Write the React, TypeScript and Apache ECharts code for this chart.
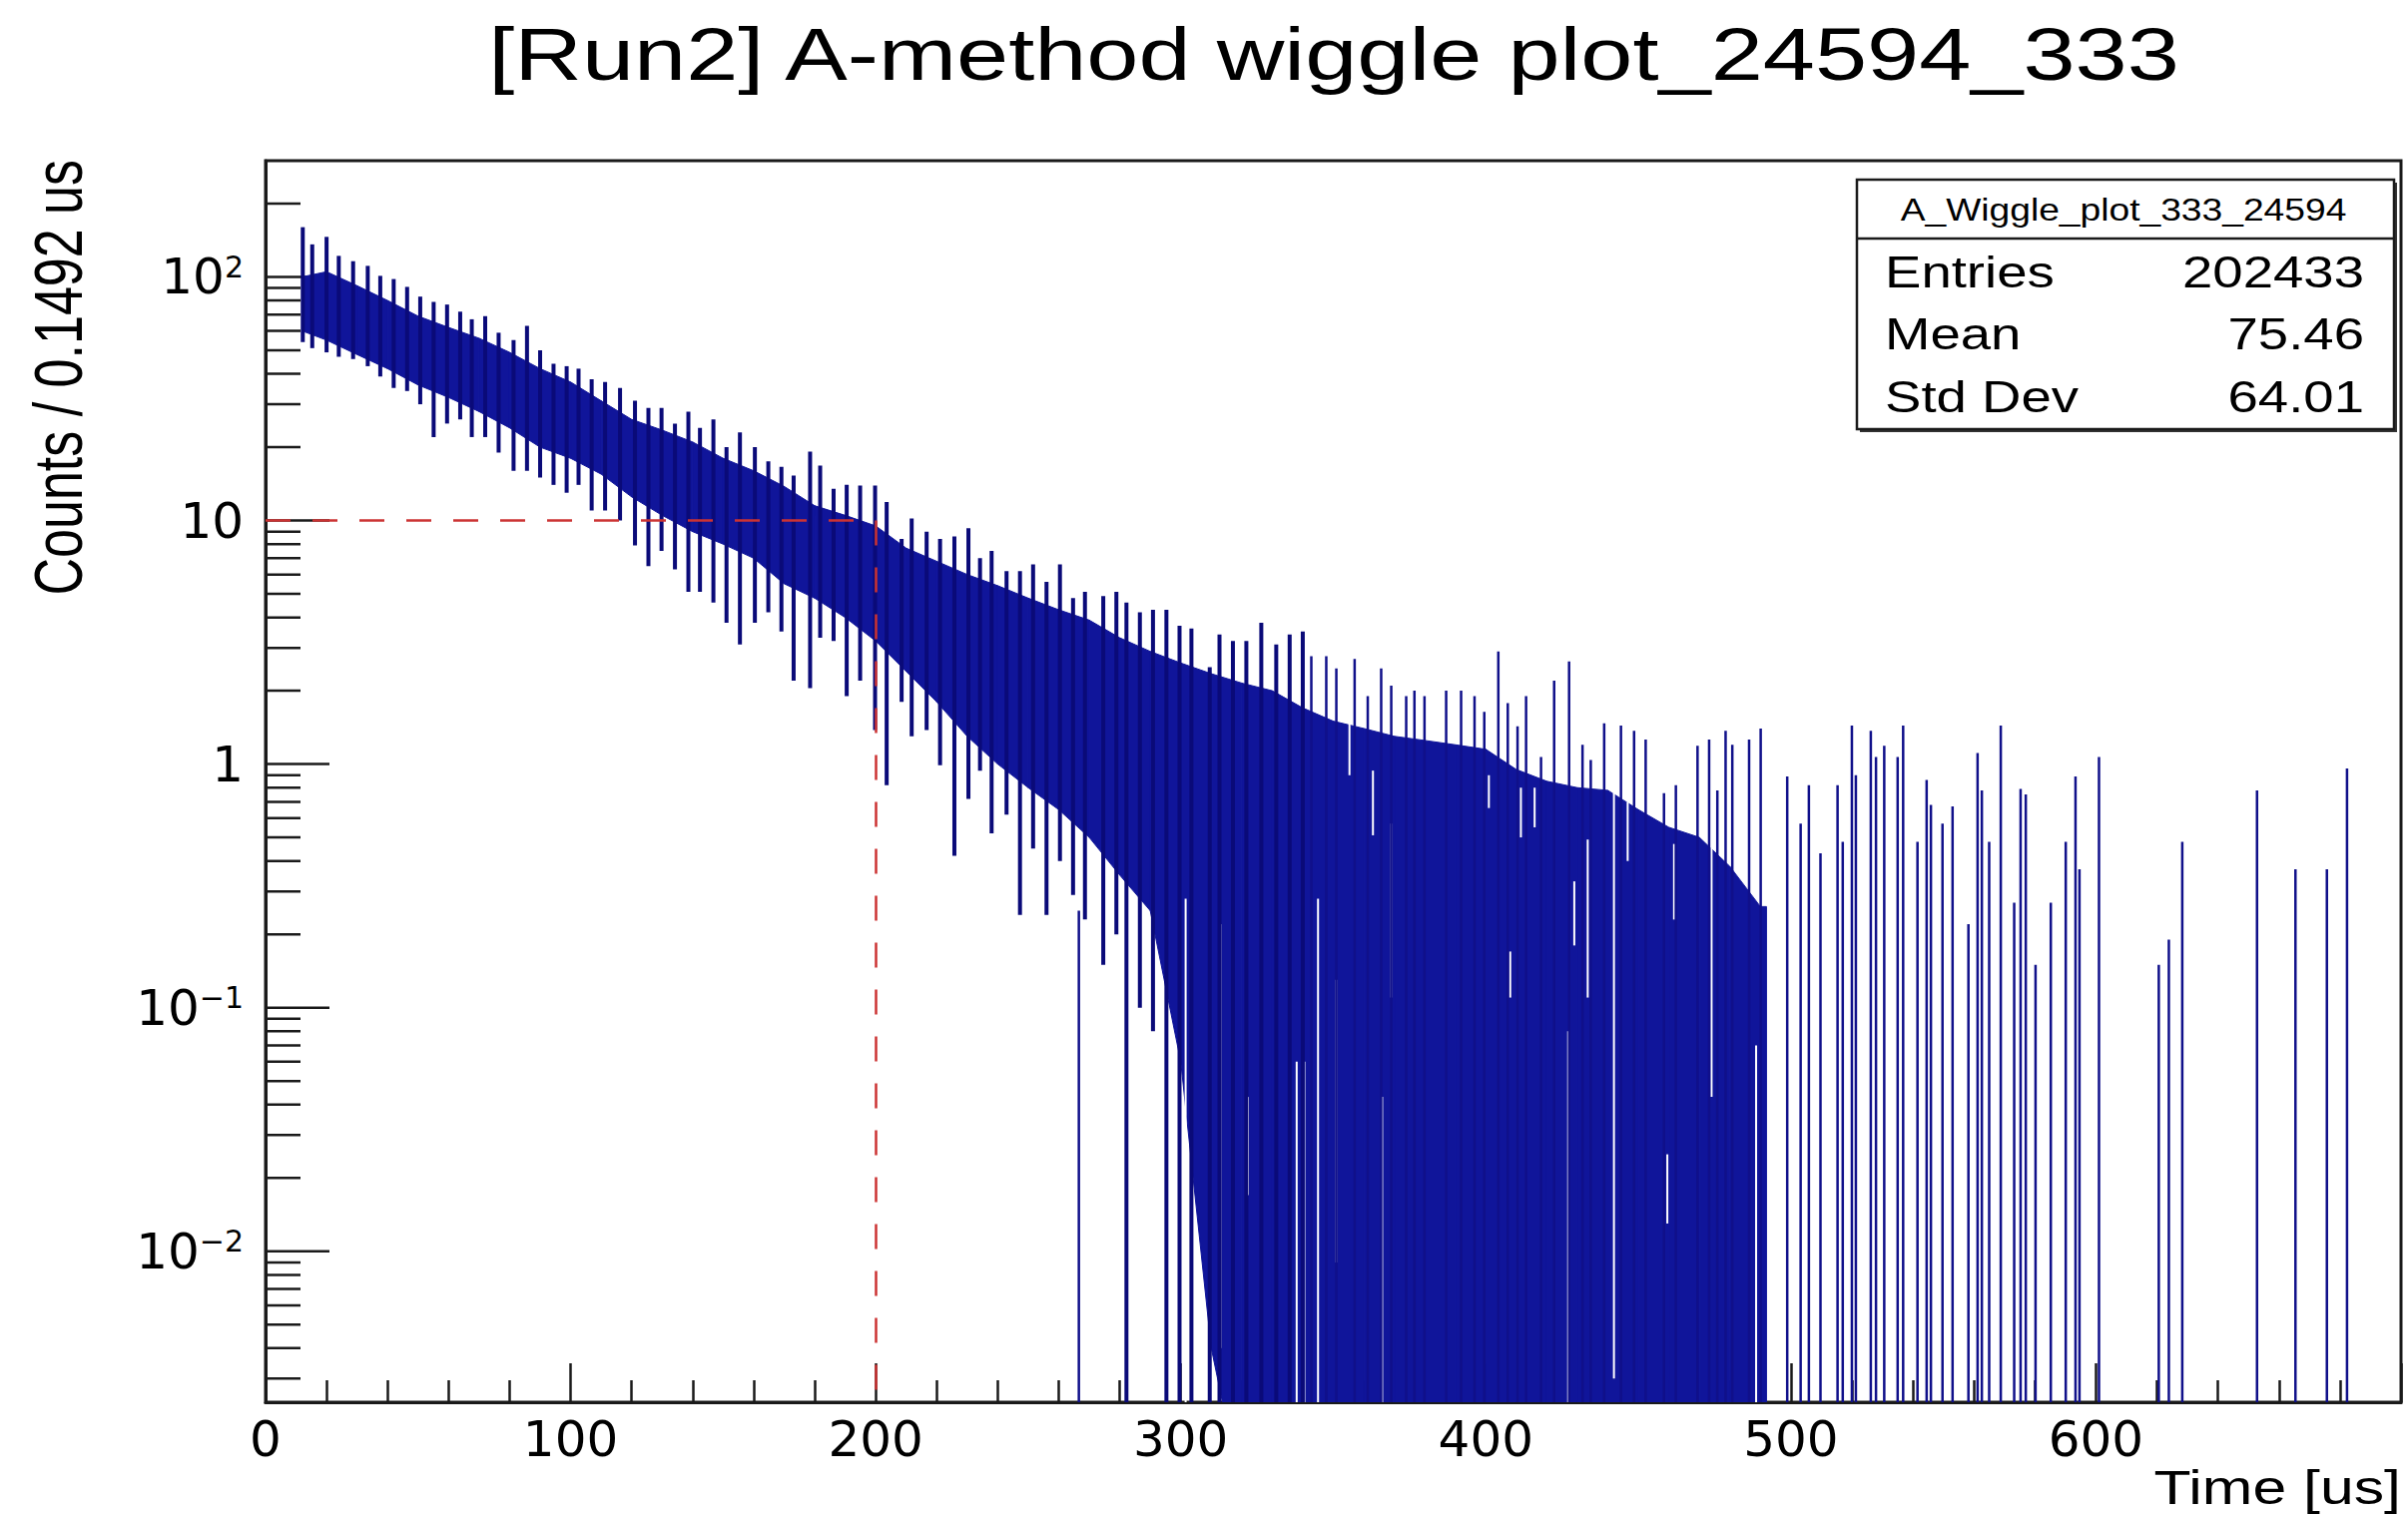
import React, { useEffect, useRef } from 'react';
import * as echarts from 'echarts';

const W = 2412;
const H = 1517;

// ---------- texts ----------
const titleText = '[Run2] A-method wiggle plot_24594_333';
const xTitle = 'Time [us]';
const yTitle = 'Counts / 0.1492 us';
const statsTitle = 'A_Wiggle_plot_333_24594';
const statsLabels = ['Entries', 'Mean', 'Std Dev'];
const statsValues = ['202433', '75.46', '64.01'];

// ---------- axes ----------
const X_MIN = 0;
const X_MAX = 700;
const X_STEP = 100;
const Y_MIN = 0.0024;
const Y_MAX = 300;
const FLOOR = 0.001; // an empty bin (0 counts) is drawn down to below the axis floor

const yMajorTicks = [0.01, 0.1, 1, 10, 100];
const yMinorTicks = [
  0.003, 0.004, 0.005, 0.006, 0.007, 0.008, 0.009,
  0.02, 0.03, 0.04, 0.05, 0.06, 0.07, 0.08, 0.09,
  0.2, 0.3, 0.4, 0.5, 0.6, 0.7, 0.8, 0.9,
  2, 3, 4, 5, 6, 7, 8, 9,
  20, 30, 40, 50, 60, 70, 80, 90,
  200,
];

// ---------- reference lines ----------
const refX = 200;
const refY = 10;

// ---------- histogram: dense core band (upper / lower edge of the solid ink) ----------
const coreT = [12, 20, 30, 40, 50, 60, 70, 80, 90, 100, 110, 120, 130, 140, 150, 160, 170, 180, 190, 200, 210, 220, 230, 240, 250, 260, 270, 280, 290, 300, 310, 320, 330, 340, 350, 360, 370, 380, 390, 400, 410, 420, 430, 440, 450, 460, 470, 480, 490, 492];
const coreHi = [100, 105, 92, 80, 69, 62, 56, 49, 42, 37, 31, 26, 23.5, 21, 18, 16, 13.8, 11.5, 10.5, 9.5, 7.7, 6.8, 6.0, 5.4, 4.8, 4.3, 3.9, 3.3, 2.9, 2.6, 2.35, 2.15, 2.0, 1.7, 1.5, 1.4, 1.3, 1.25, 1.2, 1.15, 0.95, 0.85, 0.8, 0.78, 0.65, 0.55, 0.5, 0.38, 0.26, 0.26];
const coreLo = [60, 55, 48, 42, 36, 32, 28, 24, 20, 18, 15.5, 12.5, 10.5, 9, 8, 7, 5.5, 4.8, 4, 3.2, 2.4, 1.8, 1.3, 1.0, 0.8, 0.65, 0.5, 0.35, 0.25, 0.06, 0.004, 0, 0, 0, 0, 0, 0, 0, 0, 0, 0, 0, 0, 0, 0, 0, 0, 0, 0, 0];

// ---------- wiggle strokes (one per g-2 period: max / min of the period) ----------
const wiggleT = [12.2, 15.3, 20.0, 24.0, 28.7, 33.5, 37.6, 42.0, 46.4, 50.7, 55.1, 59.5, 63.8, 67.6, 72.0, 76.4, 81.3, 85.7, 90.0, 94.4, 98.7, 102.6, 106.9, 111.3, 116.2, 121.1, 125.5, 129.8, 134.2, 138.6, 142.4, 146.8, 151.1, 155.5, 160.4, 164.8, 169.1, 173.1, 178.5, 181.8, 186.2, 190.5, 194.9, 199.8, 203.6, 208.5, 211.8, 216.7, 221.1, 225.8, 230.4, 234.2, 238.0, 242.9, 247.3, 251.6, 256.0, 260.4, 264.7, 268.6, 274.6, 278.9, 282.2, 286.6, 290.9, 295.3, 299.6, 303.5, 309.5, 312.7, 317.1, 321.5, 326.4, 331.3, 335.7, 340.0];
const wiggleHi = [160, 136, 146, 122, 116, 111, 101, 98, 91, 83, 79, 77, 72, 67, 69, 59, 55, 63, 50, 44, 43, 42, 38, 37, 35, 31, 29, 29, 25, 28, 24, 26, 20, 23, 20, 17.5, 16.6, 15.3, 19.2, 16.8, 13.5, 14, 13.9, 13.9, 11.9, 8.4, 10.2, 9.0, 8.4, 8.6, 9.3, 7.0, 7.5, 6.2, 6.2, 6.6, 5.6, 6.6, 4.8, 5.1, 4.9, 5.1, 4.6, 4.2, 4.3, 4.3, 3.7, 3.6, 2.5, 3.4, 3.2, 3.2, 3.8, 3.1, 3.4, 3.5];
const wiggleLo = [54, 51, 49, 47, 46, 43, 39, 35, 34, 30, 22, 25, 26, 22, 22, 19, 16, 16, 15, 14, 13, 14, 11, 11, 10, 7.9, 6.5, 7.5, 6.3, 5.1, 5.1, 4.6, 3.8, 3.1, 3.8, 4.2, 3.5, 2.2, 2.05, 3.3, 3.2, 1.9, 2.2, 1.38, 0.82, 1.8, 1.3, 1.38, 0.99, 0.42, 0.72, 0.94, 0.52, 0.62, 0.24, 0.45, 0.24, 0.4, 0.29, 0.23, 0.15, 0.2, 0, 0.1, 0.08, 0, 0, 0, 0, 0, 0, 0, 0, 0, 0, 0];

// ---------- late spikes (bins next to empty bins: drawn down to the floor) ----------
const spikeT = [266.6, 342.8, 347.7, 351.0, 357.0, 361.3, 365.7, 369.0, 373.9, 376.6, 379.9, 387.0, 391.9, 396.3, 399.5, 404.1, 407.2, 410.4, 413.2, 418.1, 422.4, 427.3, 431.7, 434.4, 438.8, 444.3, 448.6, 452.4, 458.4, 462.3, 469.4, 473.2, 475.9, 478.6, 480.8, 486.3, 490.1, 498.8, 503.2, 505.9, 509.7, 515.3, 517.0, 520.0, 521.3, 526.2, 527.9, 530.6, 535.0, 536.8, 541.5, 544.5, 545.9, 549.7, 553.0, 558.2, 561.2, 562.6, 565.0, 568.8, 573.2, 575.3, 577.0, 580.2, 585.2, 590.1, 593.3, 594.6, 601.0, 620.6, 623.9, 628.3, 652.8, 665.4, 675.7, 682.3];
const spikeHi = [0.25, 2.77, 2.77, 2.47, 2.7, 1.9, 2.47, 2.1, 1.9, 2.0, 1.9, 2.0, 2.0, 1.9, 1.64, 2.9, 1.78, 1.43, 1.9, 1.07, 2.2, 2.64, 1.2, 1.04, 1.47, 1.44, 1.37, 1.26, 0.76, 0.82, 1.19, 1.26, 0.78, 1.37, 1.2, 1.26, 1.4, 0.89, 0.57, 0.82, 0.43, 0.82, 0.48, 1.44, 0.9, 1.37, 1.07, 1.19, 1.07, 1.44, 0.48, 0.86, 0.68, 0.57, 0.67, 0.22, 1.11, 0.78, 0.48, 1.44, 0.27, 0.79, 0.75, 0.15, 0.27, 0.48, 0.89, 0.37, 1.07, 0.15, 0.19, 0.48, 0.78, 0.37, 0.37, 0.96];

// ---------- unfilled runs inside the dense region ----------
const gapT = [301.6, 313.0, 322.0, 331.5, 338.0, 340.5, 345.0, 351.0, 355.3, 363.0, 366.0, 369.0, 401.0, 408.0, 411.5, 416.0, 427.0, 429.0, 433.4, 442.0, 446.5, 459.5, 461.7, 474.0, 488.6];
const gapHi = [0.28, 0.22, 0.043, 0.17, 0.06, 0.06, 0.28, 0.13, 1.58, 0.94, 0.043, 0.57, 0.9, 0.17, 0.8, 0.8, 0.08, 0.33, 0.49, 0.83, 0.7, 0.025, 0.47, 0.6, 0.07];
const gapLo = [0, 0.004, 0.017, 0.017, 0, 0, 0, 0.009, 0.9, 0.51, 0, 0.11, 0.66, 0.11, 0.5, 0.55, 0, 0.18, 0.11, 0.003, 0.4, 0.013, 0.23, 0.043, 0];

// ---------- styles ----------
const BAND = '#10159a';
const STROKE = '#0a0a78';
const SPIKE = '#10108a';
const GAP = '#ffffff';
const AXIS = '#1a1a1a';
const RED = '#cc3333';
const LABEL_FONT = 'DejaVu Sans';
const TEXT_FONT = 'Liberation Sans';

const fv = (v: number) => (v > 0 ? v : FLOOR);

function vline(api: any, t: number, hi: number, lo: number, color: string, width: number) {
  const a = api.coord([t, fv(hi)]);
  const b = api.coord([t, fv(lo)]);
  return {
    type: 'line',
    shape: { x1: a[0], y1: a[1], x2: b[0], y2: b[1] },
    style: { stroke: color, lineWidth: width },
  };
}

function bandQuad(api: any, i: number, top: number[], bottom: number[], color: string) {
  if (i >= coreT.length - 1) return null;
  const pts = [
    api.coord([coreT[i], fv(top[i])]),
    api.coord([coreT[i + 1], fv(top[i + 1])]),
    api.coord([coreT[i + 1], fv(bottom[i + 1])]),
    api.coord([coreT[i], fv(bottom[i])]),
  ];
  return { type: 'polygon', shape: { points: pts }, style: { fill: color, stroke: color, lineWidth: 1 } };
}

function yLabel(v: number) {
  const e = Math.log10(v);
  const r = Math.round(e);
  if (Math.abs(e - r) > 1e-6) return '';
  if (!yMajorTicks.some((m) => Math.abs(Math.log10(m) - r) < 1e-6)) return '';
  if (r === 0) return '{b|1}';
  if (r === 1) return '{b|10}';
  const exp = r < 0 ? '\u2212' + String(-r) : String(r);
  return '{b|10}{s|' + exp + '}';
}

function buildOption() {
  const textBase = { fontFamily: TEXT_FONT, fill: '#000' };
  const statsLeft = 1860;
  const statsTop = 180;
  const statsW = 538;
  const statsH = 250;
  const rowY = [273, 335, 398];

  const graphic: any[] = [
    {
      type: 'text', x: 1336, y: 54, scaleX: 1.25, z: 100,
      style: { ...textBase, text: titleText, fontSize: 75, align: 'center', verticalAlign: 'middle' },
    },
    {
      type: 'text', x: 58, y: 160, rotation: Math.PI / 2, scaleY: 1.3, z: 100,
      style: { ...textBase, text: yTitle, fontSize: 52, align: 'right', verticalAlign: 'middle' },
    },
    {
      type: 'text', x: 2405, y: 1490, scaleX: 1.24, z: 100,
      style: { ...textBase, text: xTitle, fontSize: 49, align: 'right', verticalAlign: 'middle' },
    },
    {
      type: 'rect', z: 90,
      shape: { x: statsLeft + 3, y: statsTop + 3, width: statsW, height: statsH },
      style: { fill: '#333', stroke: 'none' },
    },
    {
      type: 'rect', z: 91,
      shape: { x: statsLeft, y: statsTop, width: statsW, height: statsH },
      style: { fill: '#fff', stroke: AXIS, lineWidth: 2.5 },
    },
    {
      type: 'line', z: 92,
      shape: { x1: statsLeft, y1: statsTop + 59, x2: statsLeft + statsW, y2: statsTop + 59 },
      style: { stroke: AXIS, lineWidth: 2.5 },
    },
    {
      type: 'text', x: statsLeft + statsW / 2 - 2, y: 210, scaleX: 1.2, z: 100,
      style: { ...textBase, text: statsTitle, fontSize: 31, align: 'center', verticalAlign: 'middle' },
    },
  ];
  statsLabels.forEach((lab, i) => {
    graphic.push({
      type: 'text', x: 1888, y: rowY[i], scaleX: 1.24, z: 100,
      style: { ...textBase, text: lab, fontSize: 44, align: 'left', verticalAlign: 'middle' },
    });
    graphic.push({
      type: 'text', x: 2368, y: rowY[i], scaleX: 1.24, z: 100,
      style: { ...textBase, text: statsValues[i], fontSize: 44, align: 'right', verticalAlign: 'middle' },
    });
  });

  const bandData = coreT.map((t, i) => [t, coreHi[i], coreLo[i]]);
  const wiggleData = wiggleT.map((t, i) => [t, wiggleHi[i], wiggleLo[i]]);
  const spikeData = spikeT.map((t, i) => [t, spikeHi[i], 0]);
  const gapData = gapT.map((t, i) => [t, gapHi[i], gapLo[i]]);

  return {
    animation: false,
    backgroundColor: '#ffffff',
    grid: {
      left: 266, right: 7, top: 161, bottom: 112,
      show: true, borderColor: AXIS, borderWidth: 3, backgroundColor: 'transparent',
    },
    xAxis: {
      type: 'value', min: X_MIN, max: X_MAX, interval: X_STEP,
      axisLine: { show: true, onZero: false, lineStyle: { color: AXIS, width: 3 } },
      axisTick: { show: true, inside: true, length: 39, lineStyle: { color: AXIS, width: 2.5 } },
      minorTick: { show: true, splitNumber: 5, length: 22, lineStyle: { color: AXIS, width: 2.5 } },
      splitLine: { show: false },
      minorSplitLine: { show: false },
      axisLabel: {
        color: '#000', fontFamily: LABEL_FONT, fontSize: 50, margin: 12,
        formatter: (v: number) => (v >= X_MAX ? '' : String(v)),
      },
    },
    yAxis: {
      type: 'log', logBase: 10, min: Y_MIN, max: Y_MAX, splitNumber: 5,
      axisLine: { show: true, onZero: false, lineStyle: { color: AXIS, width: 3 } },
      axisTick: { show: false },
      splitLine: { show: false },
      axisLabel: {
        color: '#000', margin: 22, showMinLabel: false, showMaxLabel: false,
        formatter: yLabel,
        rich: {
          b: { fontFamily: LABEL_FONT, fontSize: 50, lineHeight: 50, color: '#000' },
          s: { fontFamily: LABEL_FONT, fontSize: 30, lineHeight: 30, verticalAlign: 'top', color: '#000' },
        },
      },
    },
    graphic,
    series: [
      {
        name: 'yMinorTicks', type: 'custom', z: 1, clip: false, silent: true,
        data: yMinorTicks.map((v) => [X_MIN, v]),
        encode: { x: 0, y: 1 },
        renderItem: (params: any, api: any) => {
          const p = api.coord([X_MIN, yMinorTicks[params.dataIndex]]);
          return { type: 'line', shape: { x1: p[0], y1: p[1], x2: p[0] + 35, y2: p[1] }, style: { stroke: AXIS, lineWidth: 2.5 } };
        },
      },
      {
        name: 'yMajorTicks', type: 'custom', z: 1, clip: false, silent: true,
        data: yMajorTicks.map((v) => [X_MIN, v]),
        encode: { x: 0, y: 1 },
        renderItem: (params: any, api: any) => {
          const p = api.coord([X_MIN, yMajorTicks[params.dataIndex]]);
          return { type: 'line', shape: { x1: p[0], y1: p[1], x2: p[0] + 64, y2: p[1] }, style: { stroke: AXIS, lineWidth: 2.5 } };
        },
      },
      {
        name: 'band', type: 'custom', z: 2, clip: true, silent: true,
        data: bandData,
        encode: { x: 0, y: 1 },
        renderItem: (params: any, api: any) => bandQuad(api, params.dataIndex, coreHi, coreLo, BAND),
        markLine: {
          silent: true, z: 10, symbol: ['none', 'none'],
          label: { show: false },
          lineStyle: { color: RED, width: 2.5, type: [25, 22] },
          data: [
            [{ coord: [X_MIN, refY] }, { coord: [refX, refY] }],
            [{ coord: [refX, refY] }, { coord: [refX, Y_MIN] }],
          ],
        },
      },
      {
        name: 'gaps', type: 'custom', z: 3, clip: true, silent: true,
        data: gapData,
        encode: { x: 0, y: 1 },
        renderItem: (params: any, api: any) => {
          const i = params.dataIndex;
          return vline(api, gapT[i], gapHi[i], gapLo[i], GAP, 2);
        },
      },
      {
        name: 'wiggle', type: 'custom', z: 4, clip: true, silent: true,
        data: wiggleData,
        encode: { x: 0, y: 1 },
        renderItem: (params: any, api: any) => {
          const i = params.dataIndex;
          return vline(api, wiggleT[i], wiggleHi[i], wiggleLo[i], STROKE, 4);
        },
      },
      {
        name: 'spikes', type: 'custom', z: 4, clip: true, silent: true,
        data: spikeData,
        encode: { x: 0, y: 1 },
        renderItem: (params: any, api: any) => {
          const i = params.dataIndex;
          return vline(api, spikeT[i], spikeHi[i], 0, SPIKE, 2.5);
        },
      },
    ],
  };
}

export default function App() {
  const ref = useRef<HTMLDivElement>(null);
  useEffect(() => {
    if (!ref.current) return;
    const chart = echarts.init(ref.current, null, { renderer: 'svg' });
    chart.setOption(buildOption() as any);
    return () => chart.dispose();
  }, []);
  return (
    <div
      ref={ref}
      style={{ position: 'fixed', left: 0, top: 0, width: W + 'px', height: H + 'px', background: '#fff' }}
    />
  );
}
